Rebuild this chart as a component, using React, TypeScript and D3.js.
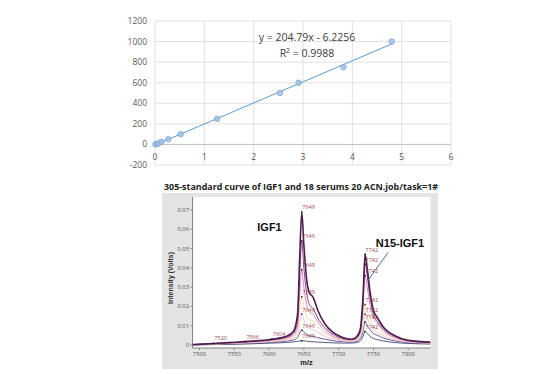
import { useMemo } from 'react';
import * as d3 from 'd3';

// --- standard curve (top) ---
const ratioValues = [0.01, 0.04, 0.07, 0.13, 0.27, 0.52, 1.26, 2.53, 2.91, 3.82, 4.8];
const concValues = [2, 5, 10, 25, 50, 100, 250, 500, 600, 750, 1000];
const slope = 204.79;
const intercept = -6.2256;
const equationText = 'y = 204.79x - 6.2256';
const r2Text = '0.9988';

// --- mass spectrum (bottom) ---
const msTitle = '305-standard curve of IGF1 and 18 serums 20 ACN.job/task=1#';
const mzPoints = [7490, 7520, 7566, 7604, 7625, 7635, 7641, 7644, 7647, 7650, 7654, 7658, 7663, 7670, 7680, 7692, 7705, 7718, 7725, 7731, 7735, 7738, 7741, 7745, 7750, 7756, 7765, 7780, 7800, 7832];
const trace1 = [0.0002, 0.0008, 0.0018, 0.003, 0.0045, 0.007, 0.016, 0.045, 0.069, 0.052, 0.034, 0.027, 0.025, 0.018, 0.011, 0.0065, 0.004, 0.003, 0.004, 0.008, 0.025, 0.047, 0.040, 0.028, 0.018, 0.014, 0.009, 0.005, 0.0025, 0.0015];
const trace2 = [0.0002, 0.0007, 0.0016, 0.0027, 0.004, 0.006, 0.013, 0.036, 0.054, 0.040, 0.027, 0.021, 0.019, 0.014, 0.009, 0.0055, 0.0035, 0.0028, 0.0035, 0.007, 0.021, 0.042, 0.036, 0.025, 0.016, 0.012, 0.008, 0.0045, 0.0022, 0.0013];
const trace3 = [0.0002, 0.0006, 0.0014, 0.0024, 0.0035, 0.005, 0.01, 0.026, 0.039, 0.030, 0.021, 0.017, 0.016, 0.012, 0.0075, 0.0045, 0.003, 0.0025, 0.003, 0.006, 0.019, 0.036, 0.030, 0.021, 0.014, 0.011, 0.007, 0.004, 0.002, 0.0012];
const trace4 = [0.0001, 0.0005, 0.0012, 0.002, 0.003, 0.004, 0.007, 0.017, 0.025, 0.020, 0.015, 0.013, 0.0125, 0.0095, 0.006, 0.0038, 0.0026, 0.002, 0.0025, 0.0045, 0.011, 0.021, 0.018, 0.014, 0.010, 0.0085, 0.0058, 0.0034, 0.0018, 0.001];
const trace5 = [0.0001, 0.0004, 0.001, 0.0017, 0.0025, 0.0033, 0.005, 0.011, 0.016, 0.013, 0.010, 0.0085, 0.008, 0.0065, 0.0045, 0.003, 0.0022, 0.0018, 0.0022, 0.004, 0.009, 0.016, 0.014, 0.011, 0.008, 0.0066, 0.0046, 0.0027, 0.0015, 0.0009];
const trace6 = [0.0001, 0.0003, 0.0008, 0.0014, 0.002, 0.0026, 0.0038, 0.0062, 0.0077, 0.0068, 0.0056, 0.0048, 0.0045, 0.0038, 0.003, 0.0022, 0.0017, 0.0015, 0.0018, 0.0032, 0.007, 0.012, 0.010, 0.008, 0.006, 0.005, 0.0035, 0.0022, 0.0012, 0.0007];
const trace7 = [0.0001, 0.0002, 0.0005, 0.001, 0.0013, 0.0016, 0.0019, 0.0021, 0.0022, 0.0021, 0.002, 0.0018, 0.0017, 0.0015, 0.0013, 0.0011, 0.001, 0.001, 0.0012, 0.002, 0.0045, 0.007, 0.006, 0.0045, 0.0034, 0.0028, 0.002, 0.0013, 0.0008, 0.0005];
const traces = [trace7, trace6, trace5, trace4, trace3, trace2, trace1];
const traceColors = ['#2d2d5e', '#3a3a88', '#f2b8d6', '#e8d890', '#d27ab4', '#8e3b8a', '#4a1d4e'];
const traceWidths = [0.8, 0.8, 0.8, 0.8, 0.9, 1, 1.6];

// peak labels: IGF1 (7649) and N15-IGF1 (7742), one per trace, largest first
const igfPeakMz = 7647;
const igfPeakValues = [0.069, 0.054, 0.039, 0.025, 0.016, 0.0077, 0.0022];
const n15PeakMz = 7738;
const n15PeakValues = [0.047, 0.042, 0.036, 0.021, 0.016, 0.012, 0.007];
const smallPeakMz = [7520, 7566, 7604];
const smallPeakValues = [0.0008, 0.0018, 0.003];
const smallPeakLabels = ['7520', '7566', '7604'];
const msYTicks = [0, 0.01, 0.02, 0.03, 0.04, 0.05, 0.06, 0.07];

export default function App() {
    // top chart scales
    const xTop = d3.scaleLinear().domain([0, 6]).range([155, 451]);
    const yTop = d3.scaleLinear().domain([-200, 1200]).range([165, 21]);

    // spectrum scales
    const xMs = d3.scaleLinear().domain([7490, 7832]).range([192.5, 430.5]);
    const yMs = d3.scaleLinear().domain([0, 0.07]).range([345, 210]);

    const specLine = useMemo(() => d3.line<[number, number]>()
        .x(d => xMs(d[0]))
        .y(d => yMs(d[1]))
        .curve(d3.curveMonotoneX), []);

    const trendX0 = d3.min(ratioValues) as number;
    const trendX1 = d3.max(ratioValues) as number;

    const tickFont = '"Open Sans", sans-serif';

    return (
        <div style={{ position: 'absolute', left: 0, top: 0 }}>
            <svg width={556} height={374} viewBox="0 0 556 374" style={{ display: 'block', background: '#fff' }}>
                {/* ---------- top: standard curve ---------- */}
                <g>
                    {xTop.ticks(6).map(t => (
                        <line key={'vx' + t} x1={xTop(t)} x2={xTop(t)} y1={yTop(1200)} y2={yTop(-200)} stroke="#d9d9d9" strokeWidth={0.8} />
                    ))}
                    {yTop.ticks(7).map(t => (
                        <line key={'hy' + t} x1={xTop(0)} x2={xTop(6)} y1={yTop(t)} y2={yTop(t)}
                            stroke={t === 0 ? '#bfbfbf' : '#d9d9d9'} strokeWidth={t === 0 ? 1 : 0.8} />
                    ))}
                    {yTop.ticks(7).map(t => (
                        <text key={'ly' + t} x={147} y={yTop(t)} dy="0.35em" textAnchor="end"
                            fontFamily={tickFont} fontSize={8.5} fill="#595959">{t}</text>
                    ))}
                    {xTop.ticks(6).map(t => (
                        <text key={'lx' + t} x={xTop(t)} y={160} textAnchor="middle"
                            fontFamily={tickFont} fontSize={8.5} fill="#595959">{t}</text>
                    ))}
                    <line x1={xTop(trendX0)} y1={yTop(slope * trendX0 + intercept)}
                        x2={xTop(trendX1)} y2={yTop(slope * trendX1 + intercept)}
                        stroke="#5b9bd5" strokeWidth={1} />
                    {ratioValues.map((r, i) => (
                        <circle key={'p' + i} cx={xTop(r)} cy={yTop(concValues[i])} r={2.8}
                            fill="#9dbfe3" fillOpacity={0.85} stroke="#7fa9d8" strokeWidth={0.8} />
                    ))}
                    <text x={307} y={40.5} textAnchor="middle" fontFamily={tickFont} fontSize={10.5} fill="#404040">{equationText}</text>
                    <text x={307} y={56.5} textAnchor="middle" fontFamily={tickFont} fontSize={10.5} fill="#404040">
                        R<tspan dy={-4} fontSize={7}>2</tspan><tspan dy={4}> = {r2Text}</tspan>
                    </text>
                </g>

                {/* ---------- bottom: mass spectrum ---------- */}
                <g>
                    <text x={301} y={190} textAnchor="middle" fontFamily={tickFont} fontWeight="bold" fontSize={8.6}
                        fill="#222" textLength={274} lengthAdjust="spacingAndGlyphs">{msTitle}</text>
                    <rect x={162} y={193} width={276} height={176} fill="#e4e4e4" />
                    <rect x={192.5} y={197} width={238} height={151} fill="#fff" />
                    <line x1={192.5} x2={192.5} y1={197} y2={348} stroke="#666" strokeWidth={0.8} />
                    <line x1={192.5} x2={430.5} y1={348} y2={348} stroke="#666" strokeWidth={0.8} />

                    {msYTicks.map(t => (
                        <g key={'my' + t}>
                            <line x1={190} x2={192.5} y1={yMs(t)} y2={yMs(t)} stroke="#666" strokeWidth={0.6} />
                            <text x={189} y={yMs(t)} dy="0.35em" textAnchor="end" fontFamily={tickFont} fontSize={5.8} fill="#555">{t}</text>
                        </g>
                    ))}
                    {xMs.ticks(7).map(t => (
                        <g key={'mx' + t}>
                            <line x1={xMs(t)} x2={xMs(t)} y1={348} y2={350.5} stroke="#666" strokeWidth={0.6} />
                            <text x={xMs(t)} y={355.5} textAnchor="middle" fontFamily={tickFont} fontSize={5.8} fill="#555">{t}</text>
                        </g>
                    ))}
                    <text x={306.5} y={365} textAnchor="middle" fontFamily="'Liberation Sans', Arial, sans-serif" fontWeight="bold" fontSize={7.5} fill="#222">m/z</text>
                    <text transform="translate(172.5,278) rotate(-90)" textAnchor="middle" fontFamily="'Liberation Sans', Arial, sans-serif"
                        fontWeight="bold" fontSize={7} fill="#333">Intensity (Volts)</text>

                    <g clipPath="url(#msClip)">
                        {traces.map((tr, i) => (
                            <path key={'tr' + i} d={specLine(mzPoints.map((m, j) => [m, tr[j]] as [number, number])) || ''}
                                fill="none" stroke={traceColors[i]} strokeWidth={traceWidths[i]} strokeLinejoin="round" />
                        ))}
                    </g>
                    <defs>
                        <clipPath id="msClip">
                            <rect x={192.5} y={197} width={238} height={151} />
                        </clipPath>
                    </defs>

                    {igfPeakValues.map((v, i) => (
                        <g key={'ig' + i}>
                            <rect x={xMs(igfPeakMz) - 0.7} y={yMs(v) - 0.7} width={1.4} height={1.4} fill="#111" />
                            <text x={xMs(igfPeakMz) + 0.5} y={yMs(v) - 2.5} fontFamily={tickFont} fontSize={5.5} fill="#9b4848">7649</text>
                        </g>
                    ))}
                    {n15PeakValues.map((v, i) => (
                        <g key={'n1' + i}>
                            <rect x={xMs(n15PeakMz) - 0.7} y={yMs(v) - 0.7} width={1.4} height={1.4} fill="#111" />
                            <text x={xMs(n15PeakMz) + 0.5} y={yMs(v) - 2.5} fontFamily={tickFont} fontSize={5.5} fill="#9b4848">7742</text>
                        </g>
                    ))}
                    {smallPeakMz.map((m, i) => (
                        <g key={'sp' + i}>
                            <rect x={xMs(m) - 0.7} y={yMs(smallPeakValues[i]) - 0.7} width={1.4} height={1.4} fill="#111" />
                            <text x={xMs(m) + 1} y={yMs(smallPeakValues[i]) - 3} fontFamily={tickFont} fontSize={5.5} fill="#9b4848">{smallPeakLabels[i]}</text>
                        </g>
                    ))}

                    <text x={269.5} y={231} textAnchor="middle" fontFamily="'Liberation Sans', Arial, sans-serif" fontWeight="bold" fontSize={11} fill="#111">IGF1</text>
                    <text x={400} y={247} textAnchor="middle" fontFamily="'Liberation Sans', Arial, sans-serif" fontWeight="bold" fontSize={11} fill="#111">N15-IGF1</text>
                    <line x1={388} y1={252.5} x2={367.5} y2={281} stroke="#4f6f99" strokeWidth={1} />
                </g>
            </svg>
        </div>
    );
}
